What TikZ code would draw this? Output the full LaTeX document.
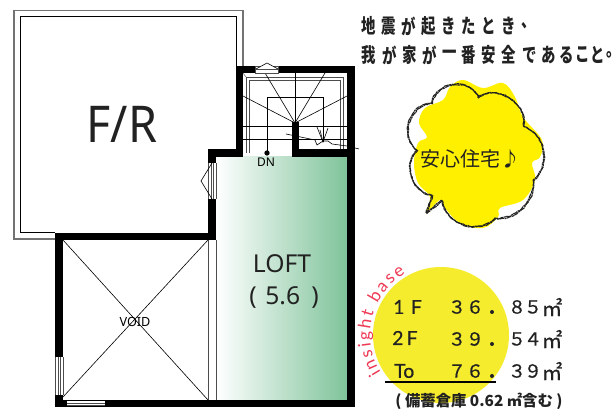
\documentclass[tikz,border=0pt]{standalone}
\usepackage{fontspec}
\usetikzlibrary{decorations.text,decorations.pathmorphing}
\setmainfont{Noto Sans}
\newfontfamily\cjk{Noto Sans CJK JP}
\newfontfamily\cjkm[FakeBold=0.6]{Noto Sans CJK JP}
\newfontfamily\latn{Lato}
\newfontfamily\latnm[FakeBold=0.6]{Lato}
\newcommand{\fs}[1]{\fontsize{#1}{#1}\selectfont}
\definecolor{bubbley}{HTML}{FFF000}
\definecolor{circy}{HTML}{F5EC2D}
\definecolor{loftg}{HTML}{7FC39A}
\definecolor{ink}{HTML}{222222}
\definecolor{pinkred}{HTML}{EE3A55}
\tikzset{
  wall/.style={fill=black,draw=none},
  thin line/.style={draw=black,line width=0.45pt},
  gray line/.style={draw=black!70,line width=0.35pt},
  frame outer/.style={draw=black!55,line width=0.9pt},
  frame inner/.style={draw=black,line width=0.75pt},
  tbl/.style={font=\cjkm\fs{13.5},text=ink,inner sep=0pt,anchor=center},
  rowhead/.style={font=\latnm\fs{14.5},text=ink,inner sep=0pt,anchor=west},
  ttl/.style={font=\cjk\bfseries\fs{15},xscale=.72,inner sep=0pt,text=ink},
  chalk/.style={draw=ink,line width=.85pt,dash pattern=on 3.5pt off .5pt on 1.5pt off .4pt,decorate,decoration={random steps,segment length=1.8pt,amplitude=.4pt}}
}
\begin{document}
\begin{tikzpicture}[x=0.75pt,y=-0.75pt]
\useasboundingbox (0,0) rectangle (612,409);
% F/R balcony frame
\draw[frame outer] (243,66) -- (243,10.5) -- (14,10.5) -- (14,239) -- (55,239);
\draw[frame inner] (236,66) -- (236,17) -- (20,17) -- (20,233) -- (55,233);
% loft green
\shade[left color=white,right color=loftg] (216,157) rectangle (347,400);
% Stairs
\draw[gray line] (246,153) -- (246,77) -- (343,77) -- (343,149);
\draw[gray line] (249,153) -- (249,80) -- (340,80) -- (340,149);
\draw[gray line] (243,73) -- (246,77);
\draw[thin line] (267,153) -- (267,97) -- (323,97) -- (323,142);
\foreach \ex/\ey in {243/96,265/73,295/73,325/73,347/96}
  \draw[thin line] (295,123) -- (\ex,\ey);
\draw[thin line] (243,126) -- (347,126);
\draw[thin line] (243,139) -- (347,139);
\draw[thin line] (286,134) -- (315,140) -- (317,145) -- (323,141) -- (328,141) -- (332,144) -- (347,146) -- (359,149);
\draw[thin line] (317,127) -- (323,142) -- (328,128);
\draw[thin line] (320,130) -- (323,142);
% walls
\fill[wall] (236,66) rectangle (355,73);
\fill[wall] (236,66) rectangle (243,157);
\fill[wall] (347,66) rectangle (355,407);
\fill[wall] (208,149) rectangle (243,157);
\fill[wall] (292,122) rectangle (299,157);
\fill[wall] (299,149) rectangle (347,157);
\fill[wall] (208,149) rectangle (216,163);
\fill[wall] (208,199) rectangle (216,240);
\fill[wall] (55,233) rectangle (216,240);
\fill[wall] (55,233) rectangle (63,357);
\fill[wall] (55,395) rectangle (63,407);
\fill[wall] (55,400) rectangle (67,407);
\fill[wall] (105,400) rectangle (347,407);
% top window
\draw[gray line,fill=white] (255,66) rectangle (278,73);
\draw[gray line] (255,69) -- (278,69);
\draw[thin line,fill=white] (256,69) -- (267,63) -- (278,69);
% side window
\draw[gray line] (208,163) -- (208,199) (211,163) -- (211,199) (213.5,163) -- (213.5,199) (216,163) -- (216,199);
\draw[thin line] (212,163) -- (201,181) -- (212,199);
% void window left / bottom
\draw[gray line] (55,357) -- (55,395) (58,357) -- (58,395) (60,357) -- (60,395) (63,357) -- (63,395);
\draw[line width=.8pt] (67,400.5) -- (105,400.5) (67,406.5) -- (105,406.5);
\draw[gray line] (67,403) -- (105,403) (67,405) -- (105,405);
% void
\draw[thin line] (63,240) -- (208,400);
\draw[thin line] (208,240) -- (63,397);
\draw[gray line] (208,240) -- (208,400);
\draw[gray line] (216,240) -- (216,400);
\node[fill=none,inner sep=0pt,font=\fs{9.5}] (void) at (135,322) {VOID};
% DN
\fill (267,153) circle (2pt);
\node[inner sep=0pt,font=\fs{9}] (dn) at (266,162) {DN};
% labels
\node[inner sep=0pt,font=\fs{38},xscale=.92,text=ink] (fr) at (122,124) {F/R};
\node[inner sep=0pt,font=\fs{18.5},text=ink] (loft) at (282,264) {LOFT};
\node[inner sep=0pt,font=\fs{18.5},text=ink] (area) at (284,298) {(\hspace{.35em}5.6\hspace{.45em})};
% title
\foreach \c/\px in {地/369,震/389,が/409,起/429,き/449,た/469,と/489,き/509,、/529}
  \node[ttl] at (\px,26) {\c};
\foreach \c/\px in {我/369,が/390,家/410,が/430,一/450,番/469,安/489,全/509,で/530,あ/549,る/567,こ/583,と/598,。/614}
  \node[ttl] at (\px,55) {\c};
% bubble
\fill[bubbley] plot[smooth cycle,tension=.6] coordinates {
 (463,80) (483,88) (503,83) (515,97) (523,117) (542,140) (540,157) (532,163) (535,180)
 (523,200) (500,208) (498,217) (483,228) (460,223) (445,208) (440,200) (426,213) (430,197)
 (418,183) (414,163) (418,143) (427,137) (419,123) (425,108) (443,100) (450,87)};
\foreach \o in {0,.7}{
\draw[chalk,shift={(\o,\o)}] (426,213) -- (442,200) to[bend right=65,looseness=1.1] (495,218) to[bend right=50] (533,180)
  to[bend right=60,looseness=1.1] (523,126) to[bend right=70,looseness=1.1] (478,97) to[bend right=75,looseness=1.2] (432,103)
  to[bend right=70,looseness=1.2] (417,150) to[bend right=65,looseness=1.1] (432,195) -- cycle;
}
\node[inner sep=0pt,font=\cjk\fs{15},text=ink] (anshin) at (470,159) {安心住宅♪};
% area circle
\fill[circy] (441,335) circle (68);
\path[decorate,decoration={text along path,text align=fit to path,
   text={|\latn\fs{13}\color{pinkred}|insight base}}]
   plot[domain=212:120,samples=40] ({441+71*cos(\x)},{335-71*sin(\x)});
% table
\node[rowhead] (f1) at (393,307) {1\,\,F};
\node[rowhead] (f2) at (392,338) {2\,F};
\node[rowhead] (f3) at (394,371) {To};
\foreach \r/\a/\b/\c/\d/\yy in {a/３/６/８/５/307,b/３/９/５/４/339,c/７/６/３/９/371}{
  \node[tbl] at (457,\yy) {\a};
  \node[tbl] at (475,\yy) {\b};
  \fill[ink] (492,\yy+5) circle (1.5pt);
  \node[tbl] at (517,\yy) {\c};
  \node[tbl] at (533,\yy) {\d};
  \node[tbl,font=\cjkm\fs{15.5}] at (552,\yy) {㎡};
}
\draw[line width=1.2pt] (385,382) -- (496,382);
\node[inner sep=0pt,font=\cjk\bfseries\fs{11.5},text=ink] (note) at (479,401) {( 備蓄倉庫 0.62 ㎡含む )};
\end{tikzpicture}
\end{document}
